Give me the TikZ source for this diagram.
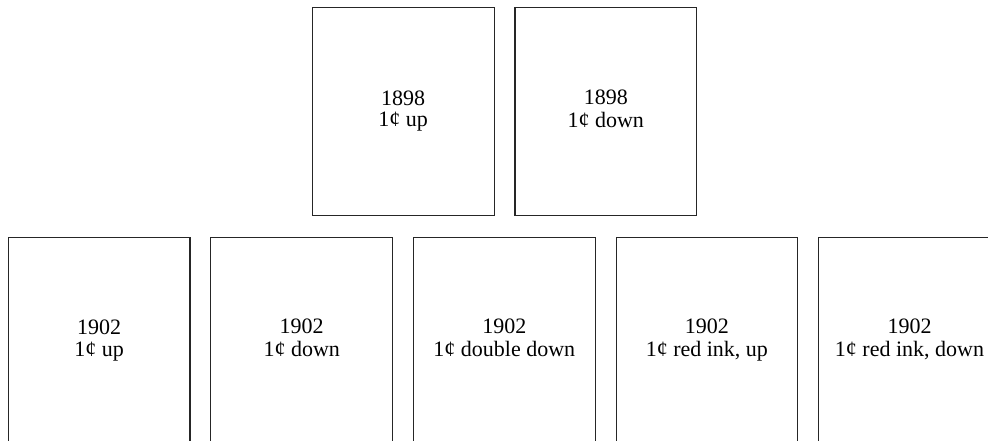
\documentclass[tikz,border=0pt]{standalone}
\usepackage{fontspec}
\setmainfont{Liberation Serif}
\usetikzlibrary{positioning}

\tikzset{
  stampbox/.style={draw=black!85, line width=1.1pt, minimum width=181.7pt,
    minimum height=207.3pt, inner sep=0pt, outer sep=0pt, align=center,
    font=\fontsize{22}{21.8}\selectfont}
}
\newcommand{\stamptext}[2]{\strut#1\\\strut#2}

\begin{document}
\begin{tikzpicture}[x=1pt,y=1pt]
    \useasboundingbox (0,0) rectangle (988,441);
    \clip (0,0) rectangle (988,441);

    % 1898 issues
    \node[stampbox] (up98) at (403.2,329.4) {\stamptext{1898}{1¢ up}};
    \node[stampbox] (down98) at (605.8,329.4) {\stamptext{1898}{1¢ down}};

    % 1902 issues
    \node[stampbox] (up02) at (99.1,100) {\stamptext{1902}{1¢ up}};
    \node[stampbox] (down02) at (301.7,100) {\stamptext{1902}{1¢ down}};
    \node[stampbox] (ddown02) at (504.3,100) {\stamptext{1902}{1¢ double down}};
    \node[stampbox] (redup02) at (706.9,100) {\stamptext{1902}{1¢ red ink, up}};
    \node[stampbox] (reddown02) at (909.5,100) {\stamptext{1902}{1¢ red ink, down}};
\end{tikzpicture}
\end{document}
